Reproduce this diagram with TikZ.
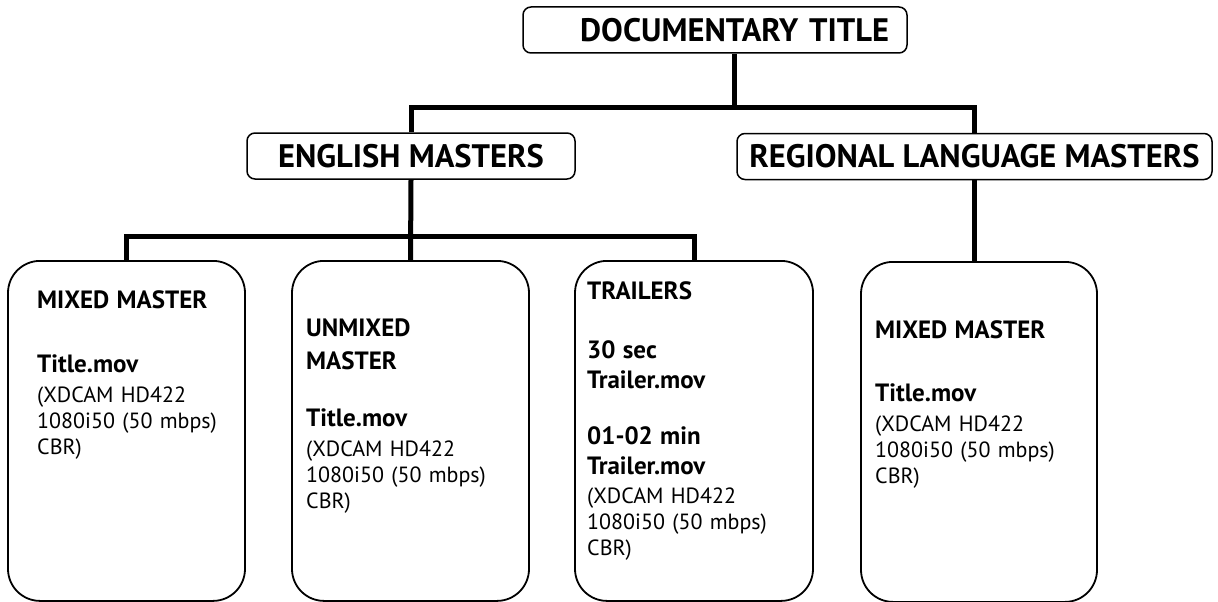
\documentclass[tikz,border=0pt]{standalone}
\usepackage{fontspec}
\setmainfont{PT Sans}
\usetikzlibrary{positioning}

\newcommand{\bl}[1]{{\fontsize{25}{30}\selectfont\bfseries #1}}

\tikzset{
  head/.style={draw, line width=1.5pt, rounded corners=8pt, inner sep=0pt,
    minimum height=46pt, font=\fontsize{32.5}{38}\selectfont\bfseries},
  leaf/.style={draw, line width=1.8pt, rounded corners=32pt, anchor=north,
    minimum height=340pt},
  info/.style={anchor=base west, inner sep=0pt, text width=225pt, align=left,
    font=\fontsize{22}{26}\selectfont},
  link/.style={line width=5pt}
}

\begin{document}
\begin{tikzpicture}[x=1pt, y=-1pt]
    \useasboundingbox (0,0) rectangle (1218,602);

    % Top levels
    \node[head, text width=348pt, align=right, inner xsep=18pt] (title) at (715,30) {DOCUMENTARY TITLE};
    \node[head, minimum width=328pt] (eng) at (411,156) {ENGLISH MASTERS};
    \node[head, minimum width=475pt] (reg) at (974.5,156.5) {REGIONAL LANGUAGE MASTERS};

    % Master boxes
    \node[leaf, minimum width=237pt] (m1) at (126.5,260) {};
    \node[leaf, minimum width=237pt] (m2) at (410.5,260) {};
    \node[leaf, minimum width=238pt] (m3) at (694,260) {};
    \node[leaf, minimum width=236pt] (r1) at (979,261) {};

    % Box contents
    \node[info] (t1) at (37,308) {\bl{MIXED MASTER}\\[38pt]
        \bl{Title.mov}\\[4pt]
        (XDCAM HD422\\ 1080i50 (50 mbps)\\ CBR)};
    \node[info] (t2) at (306,336) {\bl{UNMIXED}\\[7pt]
        \bl{MASTER}\\[31pt]
        \bl{Title.mov}\\[4pt]
        (XDCAM HD422\\ 1080i50 (50 mbps)\\ CBR)};
    \node[info] (t3) at (587,299) {\bl{TRAILERS}\\[33pt]
        \bl{30 sec}\\[4pt]
        \bl{Trailer.mov}\\[30pt]
        \bl{01-02 min}\\[4pt]
        \bl{Trailer.mov}\\[3pt]
        (XDCAM HD422\\ 1080i50 (50 mbps)\\ CBR)};
    \node[info] (t4) at (875,338) {\bl{MIXED MASTER}\\[37pt]
        \bl{Title.mov}\\[4pt]
        (XDCAM HD422\\ 1080i50 (50 mbps)\\ CBR)};

    % Connectors
    \coordinate (j1) at (734,107);
    \coordinate (j2) at (411,236);
    \draw[link] (title.south -| j1) -- (j1);
    \draw[link] (eng.north) |- (j1) -| (reg.north);
    \draw[link] (reg.south) -- (reg.south |- r1.north);
    \draw[link] (eng.south) -- (m2.north);
    \draw[link] (m1.north) |- (j2) -| (m3.north);
\end{tikzpicture}
\end{document}
